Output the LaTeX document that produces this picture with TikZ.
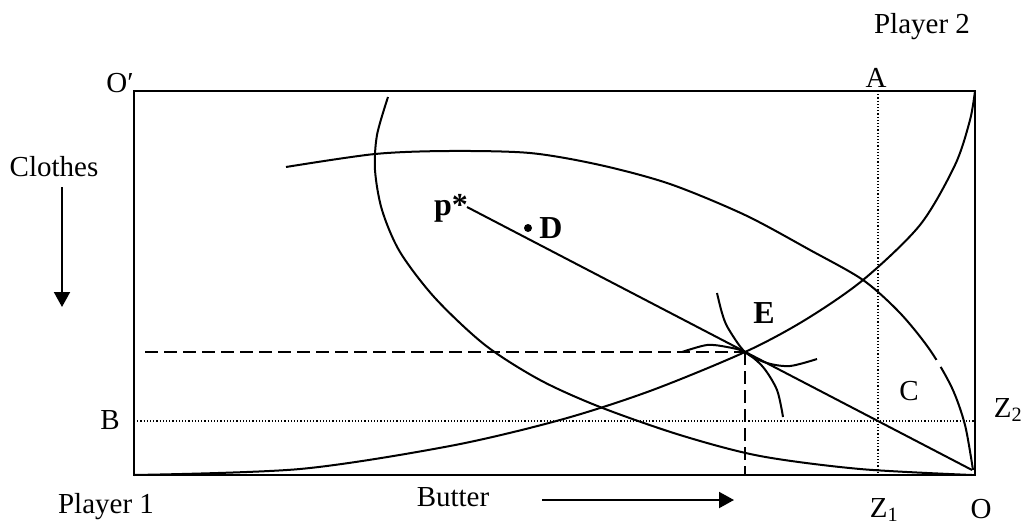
\documentclass[tikz,border=0pt]{standalone}
\usepackage{fontspec}
\setmainfont{Liberation Serif}
\usetikzlibrary{arrows.meta}
\begin{document}
\begin{tikzpicture}[x=1pt,y=-1pt,
  lbl/.style={font=\fontsize{29}{33}\selectfont, anchor=base, inner sep=0pt},
  blbl/.style={font=\fontsize{32}{36}\selectfont\bfseries, anchor=base, inner sep=0pt},
  frame/.style={line width=2pt},
  crv/.style={line width=2pt},
  dotline/.style={line width=1.2pt, dash pattern=on 1.2pt off 2pt},
  dashline/.style={line width=2pt, dash pattern=on 13pt off 6pt},
  axarrow/.style={line width=2pt, -{Triangle[length=15pt,width=16pt]}},
]
\useasboundingbox (0,0) rectangle (1026,525);
% corners
\coordinate (Op) at (134,91);
\coordinate (O) at (975,475);
\draw[frame] (Op) rectangle (O);
% dotted guides
\coordinate (Atop) at (878,91);
\coordinate (Abot) at (878,475);
\coordinate (Bl) at (134,421);
\coordinate (Br) at (975,421);
\draw[dotline] (Atop) -- (Abot);
\draw[dotline] (Bl) -- (Br);
% E and dashed lines
\coordinate (E) at (745,352);
\coordinate (Dl) at (145,352);
\coordinate (Eb) at (745,475);
\draw[dashline] (Dl) -- (E);
\draw[dashline] (E) -- (Eb);
% price line
\coordinate (pend) at (467,207);
\coordinate (Oend) at (972,470);
\draw[crv] (pend) -- (Oend);
% contract curve
\draw[crv] plot[smooth] coordinates {(134,475) (300,469) (450,446) (560,420) (650,391) (745,352) (805,320) (863,280) (920,225) (955,165) (970,120) (975,91)};
% wide curve
\draw[crv] plot[smooth] coordinates {(286,167) (375,154) (449,151) (530,153) (600,165) (670,184) (745,215) (810,250) (863,280) (900,313) (930,350) (952,388) (965,425) (973,470)};
\draw[white, line width=4.5pt] (936.5,360) -- (940,367);
% left arc curve
\draw[crv] plot[smooth] coordinates {(388,97) (377,135) (375,170) (382,210) (400,252) (435,298) (485,345) (540,380) (600,407) (680,435) (760,456) (860,469) (972,475)};
% small indifference curves at E
\draw[crv] plot[smooth] coordinates {(717,293) (722,313) (728,328) (745,352) (767,363) (790,366) (817,359)};
\draw[crv] plot[smooth] coordinates {(682,352) (707,345) (727,347) (745,352) (763,367) (777,390) (783,417)};
% labels
\node[lbl] (player2) at (922,33) {Player 2};
\node[lbl] (Alab) at (876,87) {A};
\node[lbl] (Oplab) at (120,92) {O′};
\node[lbl] (clothes) at (54,176) {Clothes};
\node[lbl] (Blab) at (110,429) {B};
\node[lbl] (player1) at (106,513) {Player 1};
\node[lbl] (butter) at (453,506) {Butter};
\node[lbl] (Z1) at (884,517) {Z\textsubscript{1}};
\node[lbl] (Olab) at (981,518) {O};
\node[lbl] (Z2) at (1008,417) {Z\textsubscript{2}};
\node[lbl] (Clab) at (909,400) {C};
\node[blbl] (Elab) at (764,323) {E};
\node[blbl] (Dlab) at (551,238) {D};
\node[blbl] (pstar) at (451,215) {p*};
\node[circle, fill, inner sep=0pt, minimum size=8pt] (Ddot) at (528,228) {};
% axis arrows
\coordinate (cls) at (62,187);
\coordinate (cle) at (62,307);
\draw[axarrow] (cls) -- (cle);
\coordinate (bts) at (542,500);
\coordinate (bte) at (734,500);
\draw[axarrow] (bts) -- (bte);
\end{tikzpicture}
\end{document}
